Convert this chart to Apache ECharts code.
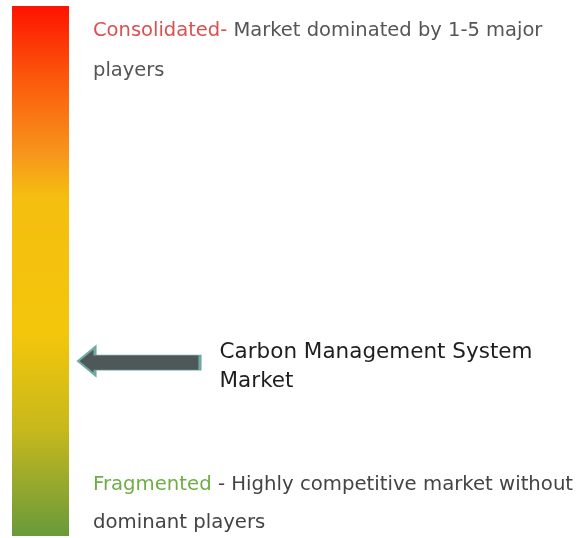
<!DOCTYPE html>
<html>
<head>
<meta charset="utf-8">
<script src="https://cdn.jsdelivr.net/npm/echarts@6/dist/echarts.min.js"></script>
<style>
html,body{margin:0;padding:0;background:#fff;}
#chart{width:588px;height:538px;}
</style>
</head>
<body>
<div id="chart"></div>
<script>
// Data
var scaleCategories = ['Market Concentration'];
var scaleValues = [1];              // full scale: 0 = fragmented, 1 = consolidated
var marketName = 'Carbon Management System\nMarket';
var marketPosition = [0.33];        // position of the market on the scale
var topLabel = ['Consolidated-', ' Market dominated by 1-5 major', 'players'];
var bottomLabel = ['Fragmented', ' - Highly competitive market without', 'dominant players'];

var FONT = 'DejaVu Sans';
var chart = echarts.init(document.getElementById('chart'), null, {renderer: 'canvas'});

var option = {
  backgroundColor: '#ffffff',
  animation: false,
  grid: {left: 12, top: 6, width: 57, height: 530},
  xAxis: {type: 'category', data: scaleCategories, show: false},
  yAxis: {type: 'value', min: 0, max: 1, show: false},
  series: [
    {
      type: 'bar',
      data: scaleValues,
      barWidth: '100%',
      itemStyle: {
        color: new echarts.graphic.LinearGradient(0, 0, 0, 1, [
          {offset: 0, color: '#FF1300'},
          {offset: 0.14, color: '#FB5A0C'},
          {offset: 0.28, color: '#F7961C'},
          {offset: 0.36, color: '#F5BE10'},
          {offset: 0.62, color: '#F3C60B'},
          {offset: 0.80, color: '#C7B81C'},
          {offset: 1, color: '#699A3B'}
        ])
      },
      silent: true
    },
    {
      type: 'scatter',
      data: marketPosition.map(function (v) { return [0, v]; }),
      symbol: 'path://M0 14 L17 0 L17 8 L122 8 L122 23 L17 23 L17 28 Z',
      symbolKeepAspect: false,
      symbolSize: [122, 28],
      symbolOffset: [98.5, 0],
      itemStyle: {color: '#4E5858', borderColor: '#6FA9A6', borderWidth: 1.5, opacity: 1},
      label: {
        show: true,
        position: 'right',
        distance: 0,
        offset: [18, 6],
        formatter: marketName,
        fontFamily: FONT,
        fontSize: 21.5,
        lineHeight: 29,
        color: '#1E1E1E',
        align: 'left'
      },
      silent: true
    }
  ],
  graphic: [
    {
      type: 'text', left: 93, top: 21,
      style: {
        text: '{a|' + topLabel[0] + '}{b|' + topLabel[1] + '}\n{b|' + topLabel[2] + '}',
        rich: {
          a: {fontFamily: FONT, fontSize: 19.5, fill: '#D9504F', lineHeight: 40},
          b: {fontFamily: FONT, fontSize: 19.5, fill: '#555555', lineHeight: 40}
        }
      }
    },
    {
      type: 'text', left: 93, top: 475,
      style: {
        text: '{a|' + bottomLabel[0] + '}{b|' + bottomLabel[1] + '}\n{b|' + bottomLabel[2] + '}',
        rich: {
          a: {fontFamily: FONT, fontSize: 19.7, fill: '#6EAE46', lineHeight: 38},
          b: {fontFamily: FONT, fontSize: 19.7, fill: '#444444', lineHeight: 38}
        }
      }
    }
  ]
};
chart.setOption(option);
</script>
</body>
</html>
